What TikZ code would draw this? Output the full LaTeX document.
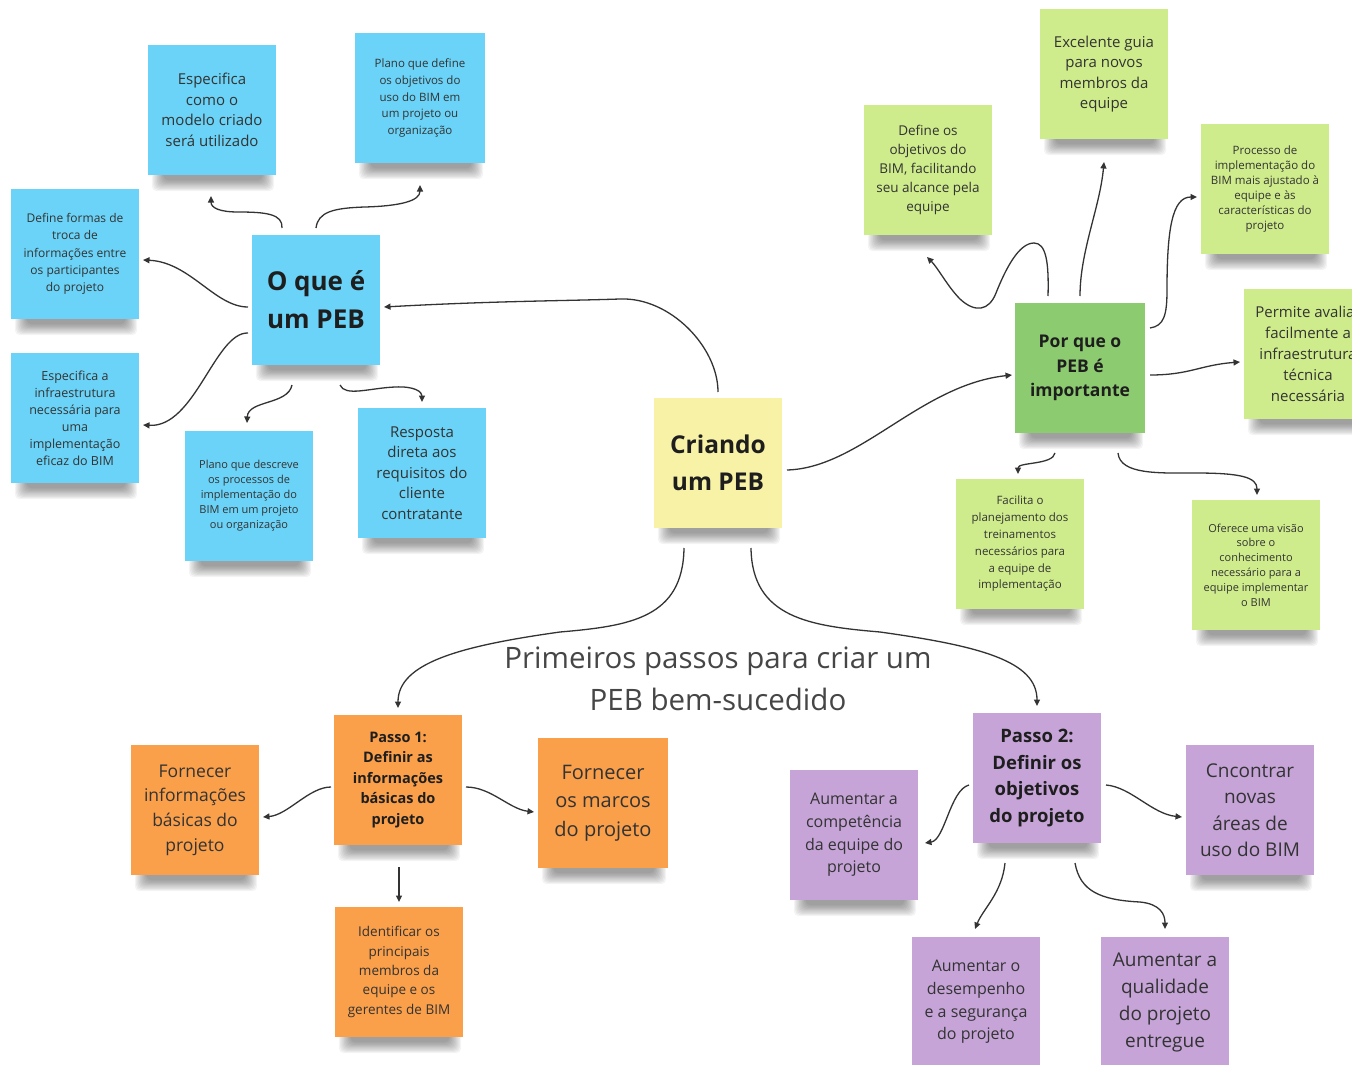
\documentclass[tikz,border=0pt]{standalone}
\usepackage{fontspec}
\setmainfont{Open Sans}
\usetikzlibrary{arrows.meta,calc,backgrounds}

\definecolor{noteblue}{HTML}{6AD3F7}
\definecolor{noteyellow}{HTML}{F8F2A6}
\definecolor{notelime}{HTML}{CFEC8C}
\definecolor{notegreen}{HTML}{8DCB70}
\definecolor{noteorange}{HTML}{FA9F4A}
\definecolor{notepurple}{HTML}{C6A4D8}
\definecolor{inktext}{HTML}{333333}
\definecolor{inkhead}{HTML}{1E1E1E}
\definecolor{inkline}{HTML}{333333}
\definecolor{inktitle}{HTML}{464646}

\newcommand\notesize[2]{\fontsize{#1}{#2}\selectfont}

\tikzset{
  note/.style={minimum width=128pt, minimum height=130pt, align=center,
    inner sep=0pt, text=inktext},
  headnote/.style={note, text=inkhead},
  bluenote/.style={note, fill=noteblue},
  yellownote/.style={headnote, fill=noteyellow},
  limenote/.style={note, fill=notelime},
  greennote/.style={headnote, fill=notegreen},
  orangenote/.style={note, fill=noteorange},
  purplenote/.style={note, fill=notepurple},
  link/.style={draw=inkline, line width=1.3pt,
    -{Triangle[length=6.5pt,width=6pt]}},
  shadowlayer/.style={fill=black, opacity=0.045, rounded corners=5pt},
}

\begin{document}
\begin{tikzpicture}[x=1pt, y=-1pt]
\useasboundingbox (0,0) rectangle (1352,1065);
\clip (0,0) rectangle (1352,1065);

% ---- O que e um PEB (blue) ----
\node[bluenote, font=\notesize{15}{20.6}] (b1) at (212,110)
  {Especifica\\como o\\modelo criado\\será utilizado};
\node[bluenote, minimum width=130pt, font=\notesize{11.5}{16.9}] (b2) at (420,98)
  {Plano que define\\os objetivos do\\uso do BIM em\\um projeto ou\\organização};
\node[bluenote, font=\notesize{12}{17.3}] (b3) at (75,254)
  {Define formas de\\troca de\\informações entre\\os participantes\\do projeto};
\node[bluenote, font=\notesize{26}{38}\bfseries, text=inkhead] (bc) at (316,300)
  {O que é\\um PEB};
\node[bluenote, font=\notesize{12.5}{17}] (b4) at (75,418)
  {Especifica a\\infraestrutura\\necessária para\\uma\\implementação\\eficaz do BIM};
\node[bluenote, font=\notesize{11}{15}] (b5) at (249,496)
  {Plano que descreve\\os processos de\\implementação do\\BIM em um projeto\\ou organização};
\node[bluenote, font=\notesize{15}{20.4}] (b6) at (422,473)
  {Resposta\\direta aos\\requisitos do\\cliente\\contratante};

% ---- centre ----
\node[yellownote, font=\notesize{24.5}{36.5}\bfseries] (yc) at (718,463)
  {Criando\\um PEB};

% ---- Por que o PEB e importante (green) ----
\node[limenote, font=\notesize{13.5}{19}] (g1) at (928,170)
  {Define os\\objetivos do\\BIM, facilitando\\seu alcance pela\\equipe};
\node[limenote, font=\notesize{15}{20.5}] (g2) at (1104,74)
  {Excelente guia\\para novos\\membros da\\equipe};
\node[limenote, font=\notesize{11.5}{15}] (g3) at (1265,189)
  {Processo de\\implementação do\\BIM mais ajustado à\\equipe e às\\características do\\projeto};
\node[greennote, minimum width=130pt, font=\notesize{17.5}{24.5}\bfseries] (gc) at (1080,368)
  {Por que o\\PEB é\\importante};
\node[limenote, font=\notesize{15}{21}] (g4) at (1308,354)
  {Permite avaliar\\facilmente a\\infraestrutura\\técnica\\necessária};
\node[limenote, font=\notesize{11.5}{16.8}] (g5) at (1020,544)
  {Facilita o\\planejamento dos\\treinamentos\\necessários para\\a equipe de\\implementação};
\node[limenote, font=\notesize{11}{14.8}] (g6) at (1256,565)
  {Oferece uma visão\\sobre o\\conhecimento\\necessário para a\\equipe implementar\\o BIM};

% ---- Passo 1 (orange) ----
\node[orangenote, font=\notesize{14.5}{20.5}\bfseries, text=inkhead] (oc) at (398,780)
  {Passo 1:\\Definir as\\informações\\básicas do\\projeto};
\node[orangenote, font=\notesize{17.5}{24.7}] (o1) at (195,810)
  {Fornecer\\informações\\básicas do\\projeto};
\node[orangenote, minimum width=130pt, font=\notesize{20}{28.7}] (o2) at (603,803)
  {Fornecer\\os marcos\\do projeto};
\node[orangenote, font=\notesize{13.5}{19.3}] (o3) at (399,972)
  {Identificar os\\principais\\membros da\\equipe e os\\gerentes de BIM};

% ---- Passo 2 (purple) ----
\node[purplenote, font=\notesize{18.5}{26.7}\bfseries, text=inkhead] (pc) at (1037,778)
  {Passo 2:\\Definir os\\objetivos\\do projeto};
\node[purplenote, font=\notesize{16}{22.7}] (p1) at (854,835)
  {Aumentar a\\competência\\da equipe do\\projeto};
\node[purplenote, font=\notesize{19}{26.5}] (p2) at (1250,810)
  {Cncontrar\\novas\\áreas de\\uso do BIM};
\node[purplenote, font=\notesize{16}{22.6}] (p3) at (976,1002)
  {Aumentar o\\desempenho\\e a segurança\\do projeto};
\node[purplenote, font=\notesize{19}{27}] (p4) at (1165,1002)
  {Aumentar a\\qualidade\\do projeto\\entregue};

% ---- white sheet and the soft shadows under the notes ----
\begin{pgfonlayer}{background}
  \fill[white] (0,0) rectangle (1352,1065);
  \foreach \n in {b1,b2,b3,bc,b4,b5,b6,yc,g1,g2,g3,gc,g4,g5,g6,
                  oc,o1,o2,o3,pc,p1,p2,p3,p4} {
    \foreach \k in {0,...,9} {
      \fill[shadowlayer] ($(\n.south west)+(4+1.3*\k,-6)$)
        rectangle ($(\n.south east)+(-2-1.3*\k,16-1.2*\k)$);
    }
  }
\end{pgfonlayer}

% ---- caption between the two steps ----
\node[align=center, text=inktitle, font=\notesize{29.5}{42}] (title) at (718,679)
  {Primeiros passos para criar um\\PEB bem-sucedido};

% ---- connectors: O que e um PEB ----
\draw[link] ($(bc)+(-34,-72)$) .. controls +(1,-14) and +(28,0) .. (238,212)
  .. controls +(-18,0) and +(0,12) .. ($(b1)+(-1,86)$);
\draw[link] ($(bc)+(0,-72)$) .. controls +(2,-16) and +(-32,1) .. (365,207)
  .. controls +(35,-1) and +(0,16) .. ($(b2)+(0,87)$);
\draw[link] ($(bc)+(-68,7)$) .. controls +(-33,0) and +(47,2) .. ($(b3)+(68,6)$);
\draw[link] ($(bc)+(-68,33)$) .. controls +(-33,-1) and +(52,3) .. ($(b4)+(68,7)$);
\draw[link] ($(bc)+(-24,85)$) .. controls +(-4,20) and +(1,-23) .. ($(b5)+(-2,-73)$);
\draw[link] ($(bc)+(24,85)$) .. controls +(5,12) and +(-25,1) .. (395,387)
  .. controls +(20,-1) and +(0,-10) .. ($(b6)+(0,-71)$);
\draw[link] ($(yc)+(0,-71)$) .. controls +(0,-45) and +(50,-2) .. (620,299)
  .. controls +(-60,2) and +(110,-6) .. ($(bc)+(68,7)$);

% ---- connectors: Por que o PEB e importante ----
\draw[link] ($(yc)+(69,7)$) .. controls +(73,-2) and +(-92,10) .. ($(gc)+(-68,7)$);
\draw[link] ($(gc)+(-32,-72)$) .. controls +(1,-34) and +(12,0) .. (1034,243)
  .. controls +(-15,0) and +(10,-25) .. (996,293)
  .. controls +(-7,18) and +(15,14) .. (960,299)
  .. controls +(-12,-12) and +(11,11) .. ($(g1)+(-1,87)$);
\draw[link] ($(gc)+(0,-72)$) .. controls +(0,-45) and +(-4,45) .. ($(g2)+(0,88)$);
\draw[link] ($(gc)+(70,-40)$) .. controls +(14,-2) and +(0,25) .. (1167,290)
  .. controls +(0,-60) and +(-25,0) .. ($(g3)+(-68,8)$);
\draw[link] ($(gc)+(70,7)$) .. controls +(40,0) and +(-40,3) .. ($(g4)+(-68,8)$);
\draw[link] ($(gc)+(-25,85)$) .. controls +(-2,12) and +(0,-12) .. ($(g5)+(-2,-70)$);
\draw[link] ($(gc)+(38,85)$) .. controls +(2,22) and +(-35,0) .. (1195,473)
  .. controls +(45,0) and +(0,-18) .. ($(g6)+(1,-70)$);

% ---- connectors: the two steps ----
\draw[link] ($(yc)+(-34,85)$) .. controls +(-1,70) and +(70,-6) .. (560,632)
  .. controls +(-100,14) and +(0,-45) .. ($(oc)+(0,-72)$);
\draw[link] ($(yc)+(33,85)$) .. controls +(1,70) and +(-70,-6) .. (880,632)
  .. controls +(100,14) and +(0,-45) .. ($(pc)+(0,-72)$);

\draw[link] ($(oc)+(-67,7)$) .. controls +(-22,0) and +(25,-2) .. ($(o1)+(68,7)$);
\draw[link] ($(oc)+(68,7)$) .. controls +(25,0) and +(-25,-3) .. ($(o2)+(-69,9)$);
\draw[link] ($(oc)+(1,87)$) -- ($(o3)+(0,-70)$);

\draw[link] ($(pc)+(-68,7)$) .. controls +(-19,5) and +(20,-3) .. ($(p1)+(71,8)$);
\draw[link] ($(pc)+(69,7)$) .. controls +(25,2) and +(-30,-3) .. ($(p2)+(-68,7)$);
\draw[link] ($(pc)+(-32,85)$) .. controls +(-3,30) and +(8,-20) .. ($(p3)+(-1,-73)$);
\draw[link] ($(pc)+(38,85)$) .. controls +(5,28) and +(-40,-2) .. (1140,902)
  .. controls +(20,2) and +(0,-15) .. ($(p4)+(0,-73)$);
\end{tikzpicture}
\end{document}
